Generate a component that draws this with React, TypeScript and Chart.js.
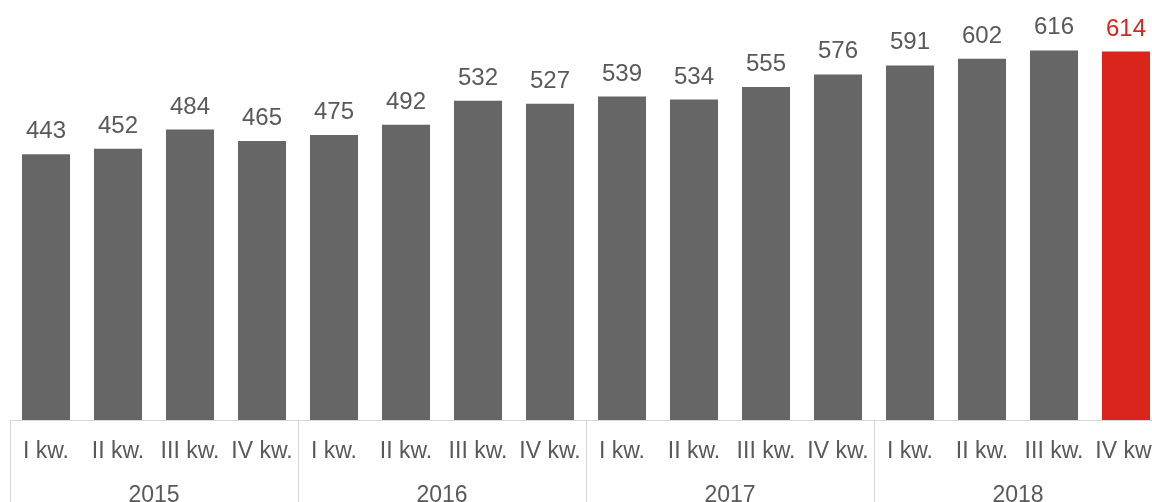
import React, { useEffect, useRef } from "react";
import { Chart, registerables } from "chart.js";

Chart.register(...registerables);

const quarters = [
  "I kw.", "II kw.", "III kw.", "IV kw.",
  "I kw.", "II kw.", "III kw.", "IV kw.",
  "I kw.", "II kw.", "III kw.", "IV kw.",
  "I kw.", "II kw.", "III kw.", "IV kw.",
];
const years = ["2015", "2016", "2017", "2018"];
const values = [443, 452, 484, 465, 475, 492, 532, 527, 539, 534, 555, 576, 591, 602, 616, 614];

const GRAY = "#666666";
const RED = "#DA251D";
const TEXT = "#595959";
const LINE = "#D9D9D9";
const FONT = "'Liberation Sans', Arial, sans-serif";

const barColors = values.map((_, i) => (i === values.length - 1 ? RED : GRAY));

const valueLabels = {
  id: "valueLabels",
  afterDatasetsDraw(chart: any) {
    const ctx = chart.ctx;
    const meta = chart.getDatasetMeta(0);
    ctx.save();
    ctx.font = `24px ${FONT}`;
    ctx.textAlign = "center";
    ctx.textBaseline = "alphabetic";
    meta.data.forEach((bar: any, i: number) => {
      ctx.fillStyle = i === values.length - 1 ? RED : TEXT;
      ctx.fillText(String(values[i]), bar.x, bar.y - 16);
    });
    ctx.restore();
  },
};

export default function App() {
  const ref = useRef<HTMLCanvasElement | null>(null);
  useEffect(() => {
    if (!ref.current) return;
    const chart = new Chart(ref.current, {
      type: "bar",
      data: {
        labels: quarters,
        datasets: [
          {
            data: values,
            backgroundColor: barColors,
            borderWidth: 0,
            categoryPercentage: 1,
            barPercentage: 0.667,
          },
        ],
      },
      options: {
        animation: false,
        responsive: true,
        maintainAspectRatio: false,
        layout: { padding: { left: 10, right: 10, top: 0, bottom: 0 } },
        plugins: { legend: { display: false }, tooltip: { enabled: false } },
        scales: {
          y: { display: false, min: 0, max: 700 },
          x: {
            type: "category",
            position: "bottom",
            weight: 0,
            offset: true,
            grid: {
              offset: true,
              drawOnChartArea: false,
              tickLength: 50,
              color: (c: any) =>
                c.index === undefined || c.index % 4 === 0 ? LINE : "rgba(0,0,0,0)",
            },
            border: { display: true, color: LINE, width: 1 },
            ticks: {
              autoSkip: false,
              maxRotation: 0,
              minRotation: 0,
              padding: -32.4,
              color: TEXT,
              font: { family: FONT, size: 23 },
            },
            afterFit: (s: any) => {
              s.height = 50;
            },
          },
          x2: {
            type: "category",
            labels: years,
            position: "bottom",
            weight: 1,
            offset: true,
            grid: {
              offset: true,
              drawOnChartArea: false,
              tickLength: 42,
              color: LINE,
            },
            border: { display: false },
            ticks: {
              autoSkip: false,
              maxRotation: 0,
              minRotation: 0,
              padding: -30.4,
              color: TEXT,
              font: { family: FONT, size: 23 },
            },
            afterFit: (s: any) => {
              s.height = 42;
            },
          },
        },
      },
      plugins: [valueLabels],
    });
    return () => chart.destroy();
  }, []);

  return (
    <div
      style={{
        position: "fixed",
        left: 0,
        top: 0,
        width: 1152,
        height: 502,
        overflow: "hidden",
        background: "#fff",
      }}
    >
      <div style={{ position: "relative", width: 1172, height: 512 }}>
        <canvas ref={ref} />
      </div>
    </div>
  );
}
